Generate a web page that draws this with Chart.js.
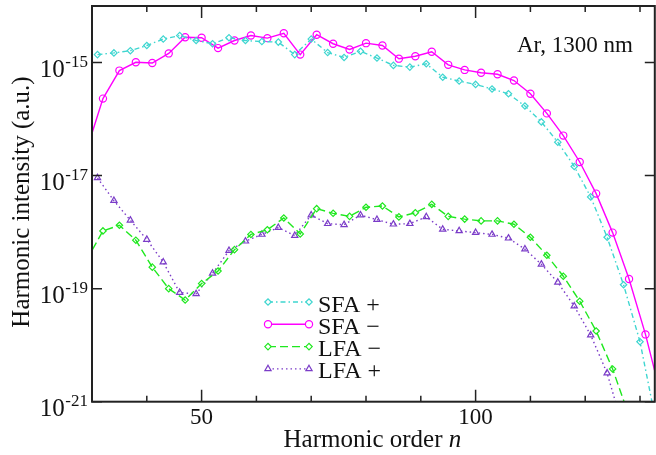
<!DOCTYPE html>
<html>
<head>
<meta charset="utf-8">
<script src="https://cdn.jsdelivr.net/npm/chart.js@4.4.1/dist/chart.umd.min.js"></script>
<style>
  html, body { margin: 0; padding: 0; background: #fff; overflow: hidden; }
  #wrap { width: 660px; height: 455px; }
</style>
</head>
<body>
<div id="wrap"><canvas id="hhgChart"></canvas></div>
<script>
// harmonic orders (the "+" and "-" channels sit on different orders)
const orderPlus = [31, 34, 37, 40, 43, 46, 49, 52, 55, 58, 61, 64, 67, 70, 73, 76, 79, 82, 85, 88,
                   91, 94, 97, 100, 103, 106, 109, 112, 115, 118, 121, 124, 127, 130, 133];
const orderMinus = [29, 32, 35, 38, 41, 44, 47, 50, 53, 56, 59, 62, 65, 68, 71, 74, 77, 80, 83, 86,
                    89, 92, 95, 98, 101, 104, 107, 110, 113, 116, 119, 122, 125, 128, 131, 134];

const sfaPlus = [1.38e-15, 1.48e-15, 1.62e-15, 2.0e-15, 2.6e-15, 3.0e-15, 2.45e-15, 2.15e-15, 2.75e-15, 2.45e-15,
                 2.35e-15, 2.3e-15, 1.38e-15, 2.6e-15, 1.5e-15, 1.23e-15, 1.58e-15, 1.2e-15, 8.9e-16, 8.3e-16,
                 9.5e-16, 5.5e-16, 4.7e-16, 4.1e-16, 3.4e-16, 2.8e-16, 1.7e-16, 8.9e-17, 3.9e-17, 1.45e-17,
                 4.2e-18, 8.1e-19, 1.17e-19, 1.15e-20, 4.0e-22];
const sfaMinus = [2.8e-17, 2.3e-16, 7.2e-16, 1.01e-15, 9.8e-16, 1.45e-15, 2.8e-15, 2.75e-15, 1.8e-15, 2.45e-15,
                  3.0e-15, 2.7e-15, 3.3e-15, 1.38e-15, 3.1e-15, 2.15e-15, 1.7e-15, 2.2e-15, 2.0e-15, 1.17e-15,
                  1.29e-15, 1.55e-15, 9.1e-16, 7.4e-16, 6.6e-16, 6.2e-16, 4.8e-16, 2.8e-16, 1.26e-16, 5.1e-17,
                  1.74e-17, 4.8e-18, 9.8e-19, 1.48e-19, 1.55e-20, 1.1e-21];
const lfaMinus = [3.2e-19, 1.05e-18, 1.32e-18, 7.2e-19, 2.4e-19, 1.0e-19, 6.3e-20, 1.23e-19, 2.05e-19, 4.9e-19,
                  9.1e-19, 1.1e-18, 1.78e-18, 9.3e-19, 2.6e-18, 2.15e-18, 1.9e-18, 2.75e-18, 2.9e-18, 1.86e-18,
                  2.2e-18, 3.1e-18, 1.9e-18, 1.7e-18, 1.58e-18, 1.58e-18, 1.38e-18, 8.1e-19, 3.9e-19, 1.66e-19,
                  6.0e-20, 1.78e-20, 3.8e-21, 5.6e-22];
const lfaPlus = [9.1e-18, 3.6e-18, 1.62e-18, 7.4e-19, 2.95e-19, 8.5e-20, 8.1e-20, 1.86e-19, 4.7e-19, 6.9e-19,
                 9.1e-19, 1.2e-18, 8.7e-19, 2.0e-18, 1.41e-18, 1.35e-18, 2.0e-18, 1.66e-18, 1.38e-18, 1.41e-18,
                 1.86e-18, 1.12e-18, 1.05e-18, 9.8e-19, 9.1e-19, 7.8e-19, 5.0e-19, 2.7e-19, 1.29e-19, 4.9e-20,
                 1.51e-20, 3.2e-21, 3.2e-22];

const xMajorTicks = [50, 100];
const xMinorTicks = [40, 60, 70, 80, 90, 110, 120, 130];
const yTickExps = [-15, -17, -19, -21];

function pairs(orders, values) {
    return values.map((v, i) => ({ x: orders[i], y: v }));
}

const serif = '"Liberation Serif", "DejaVu Serif", serif';

// frame, inward ticks, tick labels, titles and the in-plot legend
const decorations = {
    id: 'decorations',
    beforeDraw(chart) {
        const ctx = chart.ctx;
        ctx.save();
        ctx.fillStyle = '#fff';
        ctx.fillRect(0, 0, chart.width, chart.height);
        ctx.restore();
    },
    afterDatasetsDraw(chart) {
        const ctx = chart.ctx;
        const area = chart.chartArea;
        const xs = chart.scales.x;
        const ys = chart.scales.y;
        ctx.save();
        ctx.strokeStyle = '#222';
        ctx.fillStyle = '#111';

        // ticks
        ctx.lineWidth = 1.5;
        ctx.beginPath();
        xMajorTicks.concat(xMinorTicks).forEach(v => {
            const len = xMajorTicks.includes(v) ? 12 : 6;
            const px = xs.getPixelForValue(v);
            ctx.moveTo(px, area.bottom); ctx.lineTo(px, area.bottom - len);
            ctx.moveTo(px, area.top); ctx.lineTo(px, area.top + len);
        });
        yTickExps.forEach(e => {
            const py = ys.getPixelForValue(Math.pow(10, e));
            ctx.moveTo(area.left, py); ctx.lineTo(area.left + 10, py);
            ctx.moveTo(area.right, py); ctx.lineTo(area.right - 10, py);
        });
        ctx.stroke();

        // frame
        ctx.lineWidth = 2;
        ctx.strokeRect(area.left, area.top, area.right - area.left, area.bottom - area.top);

        // x tick labels
        ctx.font = '23px ' + serif;
        ctx.textAlign = 'center';
        ctx.textBaseline = 'alphabetic';
        xMajorTicks.forEach(v => {
            ctx.fillText(String(v), xs.getPixelForValue(v), area.bottom + 22.5);
        });

        // y tick labels 10^e
        yTickExps.forEach(e => {
            const py = ys.getPixelForValue(Math.pow(10, e));
            ctx.font = '17px ' + serif;
            ctx.textAlign = 'right';
            const sup = '-' + Math.abs(e);
            const supW = ctx.measureText(sup).width;
            const supRight = area.left - 4;
            ctx.fillText(sup, supRight, py + 4.5);
            ctx.font = '25px ' + serif;
            ctx.fillText('10', supRight - supW - 0.5, py + 14.5);
        });

        // axis titles
        ctx.font = '25px ' + serif;
        ctx.textAlign = 'left';
        const t1 = 'Harmonic order ';
        ctx.font = '25px ' + serif;
        const w1 = ctx.measureText(t1).width;
        ctx.font = 'italic 25px ' + serif;
        const w2 = ctx.measureText('n').width;
        const cx = (area.left + area.right) / 2 - 1;
        const startX = cx - (w1 + w2) / 2;
        ctx.font = '25px ' + serif;
        ctx.fillText(t1, startX, 446.5);
        ctx.font = 'italic 25px ' + serif;
        ctx.fillText('n', startX + w1, 446.5);

        ctx.save();
        ctx.translate(29, 202);
        ctx.rotate(-Math.PI / 2);
        ctx.font = '25px ' + serif;
        ctx.textAlign = 'center';
        ctx.fillText('Harmonic intensity (a.u.)', 0, 0);
        ctx.restore();

        // annotation
        ctx.font = '23px ' + serif;
        ctx.textAlign = 'right';
        ctx.fillText('Ar, 1300 nm', 633, 52);

        // legend
        const legendOrder = [0, 1, 2, 3];
        legendOrder.forEach((di, row) => {
            const ds = chart.data.datasets[di];
            const base = 311.5 + row * 22.3;
            const ly = base - 9.5;
            const x0 = 268, x1 = 309;
            ctx.save();
            ctx.strokeStyle = ds.borderColor;
            ctx.lineWidth = ds.borderWidth;
            ctx.setLineDash(ds.borderDash || []);
            ctx.beginPath();
            ctx.moveTo(x0, ly); ctx.lineTo(x1, ly);
            ctx.stroke();
            ctx.setLineDash([]);
            ctx.strokeStyle = ds.pointBorderColor;
            ctx.fillStyle = '#fff';
            ctx.lineWidth = ds.pointBorderWidth;
            [x0, x1].forEach(px => {
                Chart.helpers.drawPoint(ctx, {
                    pointStyle: ds.pointStyle, radius: ds.pointRadius,
                    rotation: 0, borderWidth: ds.pointBorderWidth
                }, px, ly);
            });
            ctx.restore();
            ctx.font = '24px ' + serif;
            ctx.textAlign = 'left';
            ctx.fillStyle = '#111';
            ctx.fillText(ds.label, 318, base);
        });
        ctx.restore();
    }
};

function series(label, orders, values, color, dash, style, radius) {
    return {
        label: label,
        data: pairs(orders, values),
        borderColor: color,
        borderWidth: 1.4,
        borderDash: dash,
        pointStyle: style,
        pointRadius: radius,
        pointBorderColor: color,
        pointBorderWidth: 1.2,
        pointBackgroundColor: 'rgba(255,255,255,0)',
        fill: false,
        tension: 0
    };
}

new Chart(document.getElementById('hhgChart').getContext('2d'), {
    type: 'line',
    data: {
        datasets: [
            series('SFA +', orderPlus, sfaPlus, '#3fd6d0', [5, 3, 1.5, 3], 'rectRot', 3.2),
            series('SFA \u2212', orderMinus, sfaMinus, '#ff00ff', [], 'circle', 3.6),
            series('LFA \u2212', orderMinus, lfaMinus, '#1fe81f', [8, 4], 'rectRot', 3.2),
            series('LFA +', orderPlus, lfaPlus, '#7b3cc8', [1.5, 3], 'triangle', 3.6)
        ]
    },
    options: {
        responsive: true,
        maintainAspectRatio: false,
        animation: false,
        layout: { padding: { left: 92, top: 6, right: 3, bottom: 53.3 } },
        scales: {
            x: { type: 'linear', min: 30, max: 132.7, display: false },
            y: { type: 'logarithmic', min: 1e-21, max: 1e-14, display: false }
        },
        plugins: {
            legend: { display: false },
            tooltip: { enabled: false }
        }
    },
    plugins: [decorations]
});
</script>
</body>
</html>
